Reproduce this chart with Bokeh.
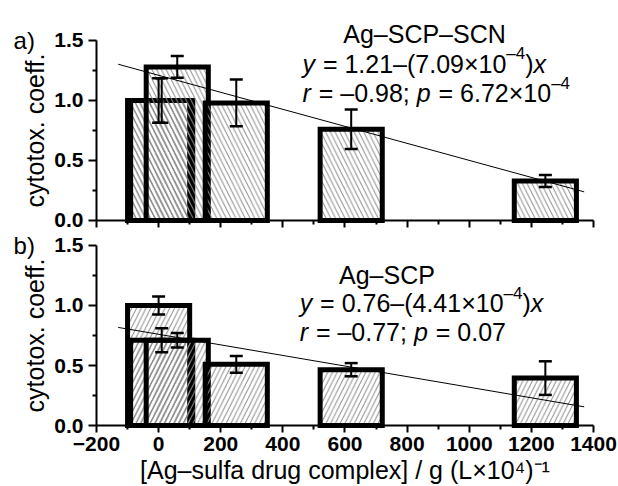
from bokeh.plotting import figure
from bokeh.layouts import column
from bokeh.models import Range1d, FixedTicker, Whisker, TeeHead, ColumnDataSource, Label
from bokeh.embed import file_html
from bokeh.resources import INLINE

# ---------------- data ----------------
x_ticks = [-200, 0, 200, 400, 600, 800, 1000, 1200, 1400]
x_tick_labels = ["\u2212200", "0", "200", "400", "600", "800", "1000", "1200", "1400"]
x_minor = [-100, 100, 300, 500, 700, 900, 1100, 1300]
y_ticks = [0.0, 0.5, 1.0, 1.5]
y_tick_labels = ["0.0", "0.5", "1.0", "1.5"]
y_minor = [0.25, 0.75, 1.25]

# panel a) Ag-SCP-SCN
a_x = [0, 10, 60, 250, 620, 1245]
a_y = [1.00, 1.00, 1.28, 0.98, 0.76, 0.33]
a_err = [0.185, 0.185, 0.09, 0.195, 0.165, 0.05]
a_intercept, a_slope = 1.21, -7.09e-4

# panel b) Ag-SCP
b_x = [0, 10, 60, 250, 620, 1245]
b_y = [1.00, 0.71, 0.71, 0.51, 0.465, 0.395]
b_err = [0.075, 0.10, 0.06, 0.07, 0.055, 0.14]
b_intercept, b_slope = 0.76, -4.41e-4

bar_width = 200
fit_x = [-130, 1370]

a_title = "Ag\u2013SCP\u2013SCN"
a_eq = [("y", "italic", False), (" = 1.21\u2013(7.09\u00d710", "normal", False), ("\u20134", "normal", True),
        (")", "normal", False), ("x", "italic", False)]
a_stat = [("r", "italic", False), (" = \u20130.98; ", "normal", False), ("p", "italic", False),
          (" = 6.72\u00d710", "normal", False), ("\u20134", "normal", True)]
b_title = "Ag\u2013SCP"
b_eq = [("y", "italic", False), (" = 0.76\u2013(4.41\u00d710", "normal", False), ("\u20134", "normal", True),
        (")", "normal", False), ("x", "italic", False)]
b_stat = [("r", "italic", False), (" = \u20130.77; ", "normal", False), ("p", "italic", False),
          (" = 0.07", "normal", False)]

x_label = "[Ag\u2013sulfa drug complex] / g (L\u00d710\u2074)\u207b\u00b9"
y_label = "cytotox. coeff."

FONT = "Liberation Sans"
ANN = 25
W_TOTAL = 618
X_RANGE = (-509.0, 1480.5)

# Arial / Liberation Sans advance widths (em)
W = {" ": 0.278, "\u00a0": 0.278, ".": 0.278, ";": 0.278, "=": 0.584, "(": 0.333, ")": 0.333,
     "\u00d7": 0.584, "\u2013": 0.556, "\u2212": 0.584, "y": 0.5, "x": 0.5, "r": 0.333, "p": 0.556}


def tw(s, size):
    return sum(W.get(c, 0.556) for c in s) * size


def rich(p, x, y, segs, size):
    off = 0.0
    for txt, style, sup in segs:
        fs = size * 0.68 if sup else size
        txt = txt.replace(" ", "\u00a0")
        p.add_layout(Label(x=x, y=y, x_offset=off, y_offset=(size * 0.4 if sup else 0), text=txt,
                           text_font=FONT, text_font_size=f"{fs:.1f}px", text_font_style=style,
                           text_baseline="alphabetic", text_align="left", text_color="black"))
        off += tw(txt, fs)
        if style == "italic":
            off += 1.0


def make_fig(height, y_range, xs, ys, errs, icpt, slope, hatch, show_x):
    p = figure(width=W_TOTAL, height=height, x_range=Range1d(*X_RANGE), y_range=Range1d(*y_range),
               output_backend="svg", toolbar_location=None,
               min_border_left=0, min_border_right=0, min_border_top=0, min_border_bottom=0,
               outline_line_color=None, background_fill_color="white", border_fill_color="white")
    p.grid.visible = False
    p.vbar(x=xs, top=ys, bottom=0, width=bar_width, fill_color=None, line_color="black", line_width=5,
           line_join="miter", hatch_pattern=hatch, hatch_color="#8c8c8c", hatch_scale=9.5, hatch_weight=1)
    p.line(fit_x, [icpt + slope * v for v in fit_x], line_color="black", line_width=1)
    src = ColumnDataSource(dict(x=xs, upper=[a + b for a, b in zip(ys, errs)],
                                lower=[a - b for a, b in zip(ys, errs)]))
    p.add_layout(Whisker(source=src, base="x", upper="upper", lower="lower", dimension="height",
                         line_color="black", line_width=2, level="annotation",
                         upper_head=TeeHead(size=13, line_width=2.5, line_color="black"),
                         lower_head=TeeHead(size=13, line_width=2.5, line_color="black")))
    for ax in (p.xaxis[0], p.yaxis[0]):
        ax.axis_line_width = 2
        ax.axis_line_color = "black"
        ax.major_tick_line_width = 2
        ax.minor_tick_line_width = 2
        ax.major_tick_in = 0
        ax.minor_tick_in = 0
        ax.major_label_text_font = FONT
        ax.major_label_text_font_style = "bold"
        ax.major_label_text_font_size = "21px"
        ax.major_label_text_color = "black"
        ax.axis_label_text_font = FONT
        ax.axis_label_text_font_style = "normal"
        ax.axis_label_text_font_size = "25px"
        ax.axis_label_text_color = "black"
    p.xaxis.ticker = FixedTicker(ticks=x_ticks, minor_ticks=x_minor)
    p.xaxis.major_label_overrides = {t: l for t, l in zip(x_ticks, x_tick_labels)}
    p.xaxis.major_tick_out = 7
    p.xaxis.minor_tick_out = 4
    p.xaxis.bounds = (x_ticks[0], x_ticks[-1])
    p.xaxis.fixed_location = 0
    p.yaxis.ticker = FixedTicker(ticks=y_ticks, minor_ticks=y_minor)
    p.yaxis.major_label_overrides = {t: l for t, l in zip(y_ticks, y_tick_labels)}
    p.yaxis.major_tick_out = 8
    p.yaxis.minor_tick_out = 4
    p.yaxis.major_label_standoff = 5
    p.yaxis.axis_label = y_label
    p.yaxis.axis_label_standoff = 2
    p.yaxis.bounds = (y_ticks[0], y_ticks[-1])
    p.yaxis.fixed_location = x_ticks[0]
    if show_x:
        p.xaxis.axis_label = x_label
        p.xaxis.major_label_standoff = 4
        p.xaxis.axis_label_standoff = 2
    else:
        p.xaxis.major_label_text_color = None
    return p


p1 = make_fig(232, (-0.1, 1.8333), a_x, a_y, a_err, a_intercept, a_slope, "left_diagonal_line", False)
p2 = make_fig(254, (-0.5083, 1.6083), b_x, b_y, b_err, b_intercept, b_slope, "right_diagonal_line", True)

# annotations
p1.add_layout(Label(x=856, y=1.556, text=a_title, text_font=FONT, text_font_size=f"{ANN}px",
                    text_align="center", text_baseline="alphabetic", text_color="black"))
rich(p1, 463, 1.306, a_eq, ANN)
rich(p1, 463, 1.061, a_stat, ANN)
p2.add_layout(Label(x=735, y=1.258, text=b_title, text_font=FONT, text_font_size=f"{ANN}px",
                    text_align="center", text_baseline="alphabetic", text_color="black"))
rich(p2, 454, 1.019, b_eq, ANN)
rich(p2, 454, 0.783, b_stat, ANN)

for p, t, yy in ((p1, "a)", 1.5), (p2, "b)", 1.496)):
    p.add_layout(Label(x=-467, y=yy, text=t, text_font=FONT, text_font_size="24px",
                       text_align="left", text_baseline="alphabetic", text_color="black"))

layout = column(p1, p2)
open("out.html", "w").write(file_html(layout, INLINE))
